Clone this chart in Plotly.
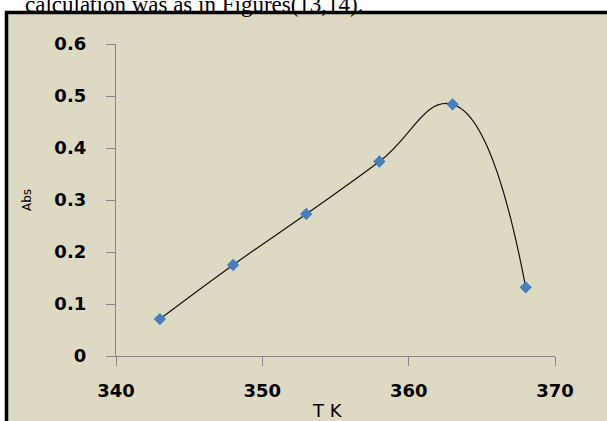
import plotly.graph_objects as go

# Data
temp_k = [343, 348, 353, 358, 363, 368]
absorbance = [0.071, 0.175, 0.273, 0.374, 0.484, 0.132]
x_ticks = [340, 350, 360, 370]
y_ticks = [0, 0.1, 0.2, 0.3, 0.4, 0.5, 0.6]
y_tick_text = ["0", "0.1", "0.2", "0.3", "0.4", "0.5", "0.6"]
x_title = "T K"
y_title = "Abs"
caption = "calculation was as in Figures(13,14)."

W, H = 607, 421
ML, MR, MT, MB = 116, 52, 44, 65
PW, PH = W - ML - MR, H - MT - MB

def px_x(x):
    return (x - ML) / PW

def px_y(y):
    return (H - MB - y) / PH

BEIGE = "#DDD9C3"
AXIS = "#868686"

fig = go.Figure()
fig.add_trace(go.Scatter(
    x=temp_k, y=absorbance,
    mode="lines+markers",
    line=dict(color="#111111", width=1.2, shape="spline", smoothing=1.3),
    marker=dict(symbol="diamond", size=9.5, color="#4A7EBB"),
    showlegend=False,
))

tick_font = dict(family="DejaVu Sans", size=18, color="black", weight="bold")

fig.update_layout(
    width=W, height=H,
    margin=dict(l=ML, r=MR, t=MT, b=MB, autoexpand=False),
    paper_bgcolor="white",
    plot_bgcolor="rgba(0,0,0,0)",
    xaxis=dict(
        range=[340, 370], tickvals=x_ticks, ticktext=[str(v) for v in x_ticks],
        showgrid=False, zeroline=False, showline=True, linecolor=AXIS, linewidth=1.3,
        ticks="outside", ticklen=9, tickwidth=1.3, tickcolor=AXIS,
        tickfont=tick_font, ticklabelstandoff=9,
    ),
    yaxis=dict(
        range=[0, 0.6], tickvals=y_ticks, ticktext=y_tick_text,
        showgrid=False, zeroline=False, showline=True, linecolor=AXIS, linewidth=1.3,
        ticks="outside", ticklen=9, tickwidth=1.3, tickcolor=AXIS,
        tickfont=tick_font, ticklabelstandoff=16,
        title=dict(text=y_title, font=dict(family="DejaVu Sans", size=12, color="black"), standoff=20),
    ),
    shapes=[dict(
        type="rect", xref="paper", yref="paper", layer="below",
        x0=px_x(6.5), x1=px_x(640), y0=px_y(460), y1=px_y(12.5),
        line=dict(color="black", width=3.5), fillcolor=BEIGE,
    )],
    annotations=[
        dict(
            text=caption, xref="paper", yref="paper", x=px_x(23), y=px_y(18.5),
            xanchor="left", yanchor="bottom", showarrow=False,
            font=dict(family="Liberation Serif", size=23, color="black"),
        ),
        dict(
            text=x_title, xref="paper", yref="paper", x=px_x(327), y=px_y(410),
            xanchor="center", yanchor="middle", showarrow=False,
            font=dict(family="DejaVu Sans", size=18, color="black"),
        ),
    ],
)

fig.write_html(
    "out.html",
    config={"displayModeBar": False},
    post_script="document.body.style.margin='0';document.body.style.overflow='hidden';",
)
